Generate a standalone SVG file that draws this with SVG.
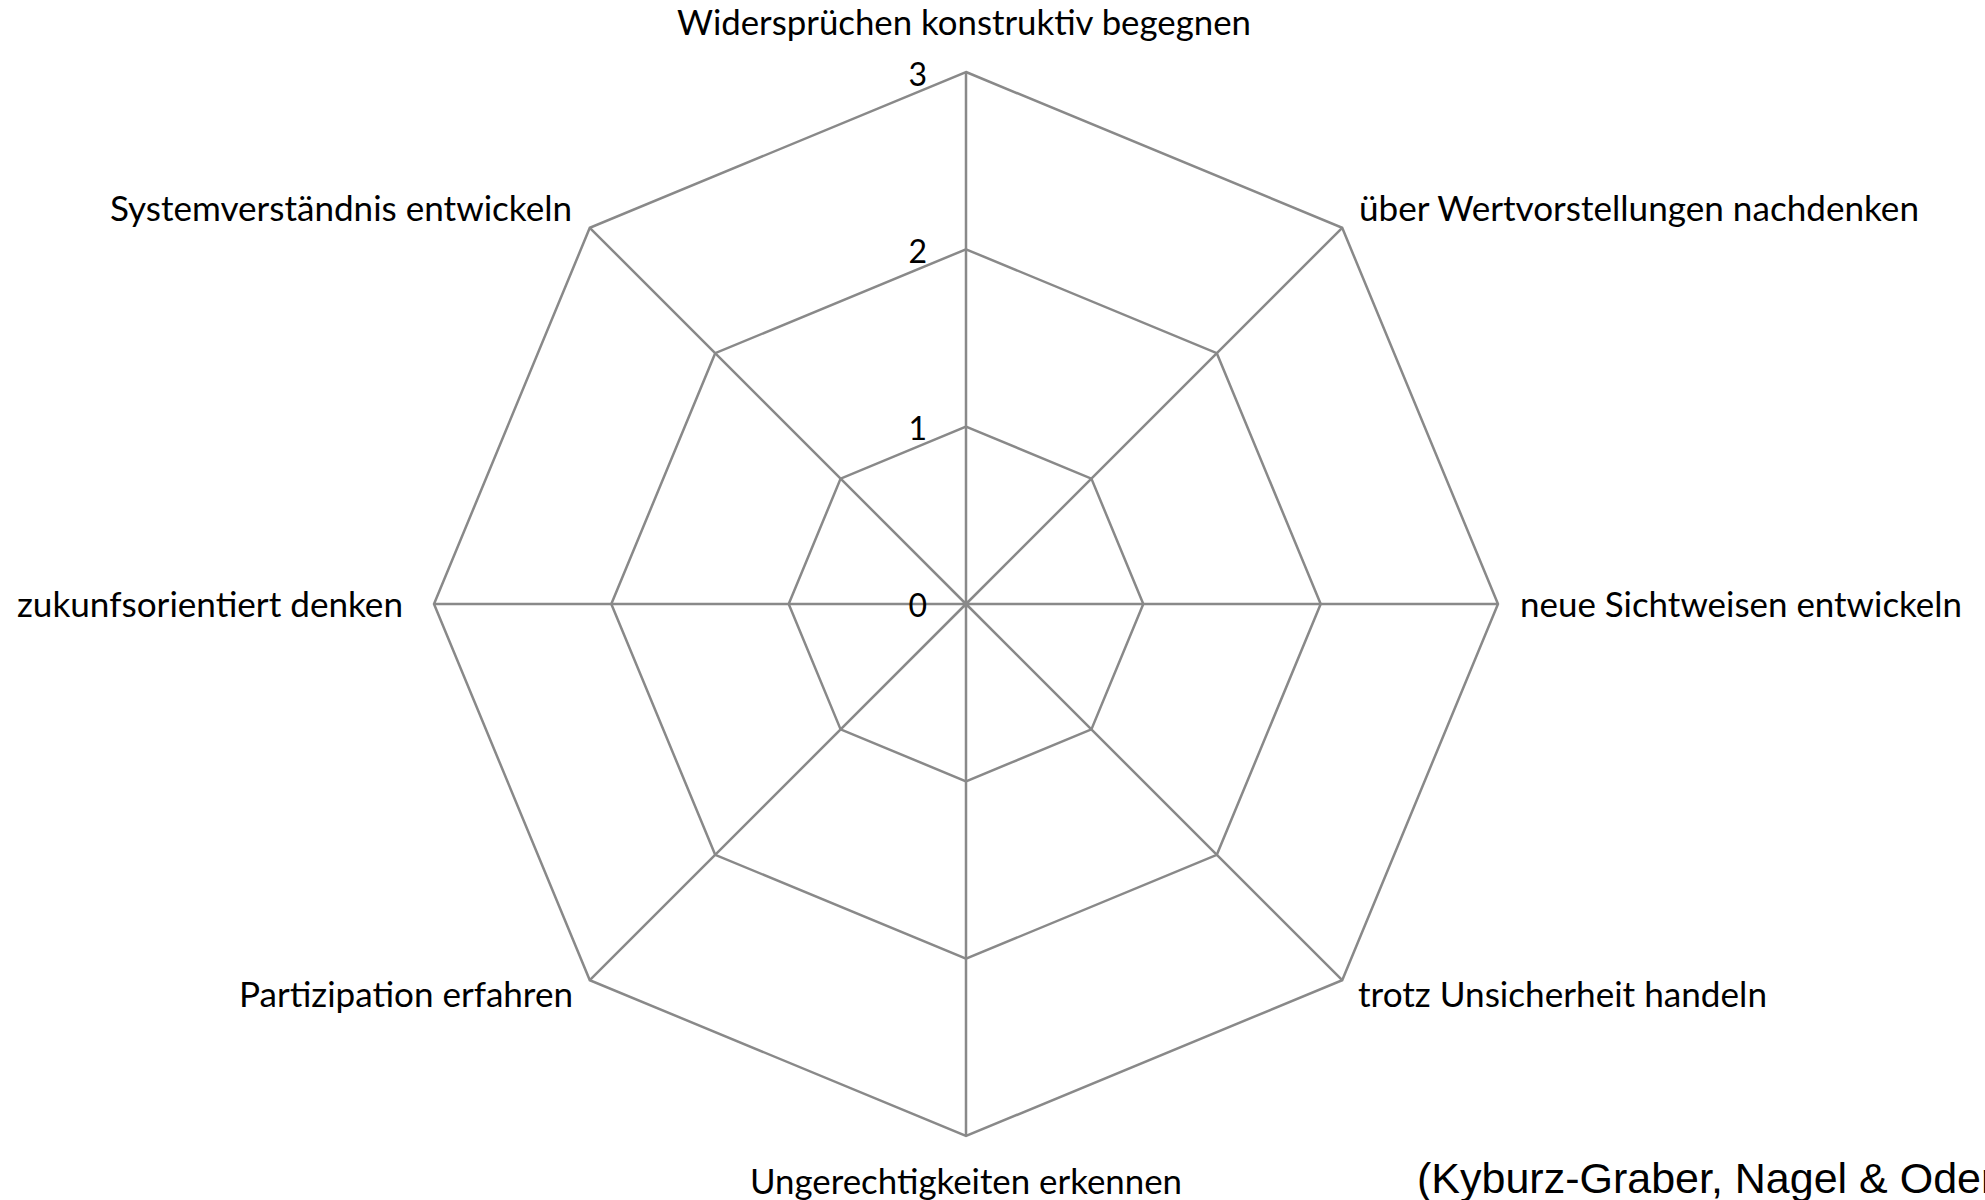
<svg xmlns="http://www.w3.org/2000/svg" width="1985" height="1200" viewBox="0 0 1985 1200">
<style>
.grid{fill:none;stroke:#898989;stroke-width:2.5;stroke-linejoin:miter}
.lbl{font-family:Lato,"Open Sans",sans-serif;font-size:34px;fill:#000}
.num{font-family:Lato,"Open Sans",sans-serif;font-size:32px;fill:#000;text-anchor:end}
.cite{font-family:"Liberation Sans",Arial,sans-serif;font-size:43px;fill:#000}
</style>
<rect width="1985" height="1200" fill="#fff"/>
<g id="connectors">
<polygon class="grid" points="966,426.7 1091.4,478.6 1143.3,604 1091.4,729.4 966,781.3 840.6,729.4 788.7,604 840.6,478.6"/>
<polygon class="grid" points="966,249.3 1216.8,353.2 1320.7,604 1216.8,854.8 966,958.7 715.2,854.8 611.3,604 715.2,353.2"/>
<polygon class="grid" points="966,72 1342.2,227.8 1498,604 1342.2,980.2 966,1136 589.8,980.2 434,604 589.8,227.8"/>
<path class="grid" d="M966,604L966,72M966,604L1342.2,227.8M966,604L1498,604M966,604L1342.2,980.2M966,604L966,1136M966,604L589.8,980.2M966,604L434,604M966,604L589.8,227.8"/>
</g>
<g id="scale">
<text class="num" x="927" y="86">3</text>
<text class="num" x="927" y="263">2</text>
<text class="num" x="927" y="440">1</text>
<text class="num" x="927" y="617">0</text>
</g>
<g id="n1"><text class="lbl" x="677" y="35" textLength="574" lengthAdjust="spacingAndGlyphs">Widersprüchen konstruktiv begegnen</text></g>
<g id="n2"><text class="lbl" x="1359" y="221" textLength="560" lengthAdjust="spacingAndGlyphs">über Wertvorstellungen nachdenken</text></g>
<g id="n3"><text class="lbl" x="1520" y="617" textLength="442" lengthAdjust="spacingAndGlyphs">neue Sichtweisen entwickeln</text></g>
<g id="n4"><text class="lbl" x="1358" y="1007" textLength="409" lengthAdjust="spacingAndGlyphs">trotz Unsicherheit handeln</text></g>
<g id="n5"><text class="lbl" x="750" y="1194" textLength="432" lengthAdjust="spacingAndGlyphs">Ungerechtigkeiten erkennen</text></g>
<g id="n6"><text class="lbl" x="239" y="1007" textLength="334" lengthAdjust="spacingAndGlyphs">Partizipation erfahren</text></g>
<g id="n7"><text class="lbl" x="17" y="617" textLength="386" lengthAdjust="spacingAndGlyphs">zukunfsorientiert denken</text></g>
<g id="n8"><text class="lbl" x="110" y="221" textLength="462" lengthAdjust="spacingAndGlyphs">Systemverständnis entwickeln</text></g>
<g id="citation"><text class="cite" x="1417" y="1193">(Kyburz-Graber, Nagel &amp; Oder</text></g>
</svg>
